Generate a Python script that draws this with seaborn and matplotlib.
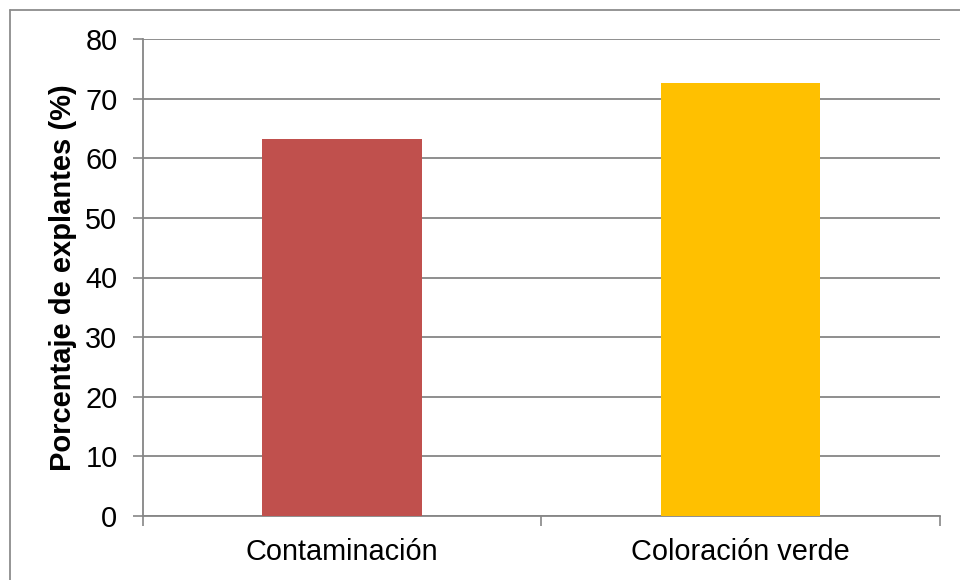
import matplotlib
matplotlib.use("Agg")
import matplotlib.pyplot as plt
from matplotlib.lines import Line2D
import seaborn as sns
import pandas as pd

# Data
categories = ["Contaminación", "Coloración verde"]
percentages = [63.3, 72.6]
bar_colors = ["#C0504D", "#FFC000"]
y_ticks = [0, 10, 20, 30, 40, 50, 60, 70, 80]

df = pd.DataFrame({"categoria": categories, "porcentaje": percentages})

sns.set_theme(style="white")
plt.rcParams["font.family"] = ["Liberation Sans", "DejaVu Sans"]

W, H = 960, 580
fig = plt.figure(figsize=(W / 100, H / 100), dpi=100)
ax = fig.add_axes([142.5 / W, 1 - 516 / H, (940 - 142.5) / W, (516 - 39) / H])

grid_color = "#868686"

sns.barplot(data=df, x="categoria", y="porcentaje", hue="categoria",
            palette=bar_colors, width=0.4, saturation=1, legend=False,
            linewidth=0, ax=ax, zorder=3)

ax.set_ylim(0, 80)
ax.set_xlim(-0.5, 1.5)
ax.set_yticks(y_ticks)
ax.yaxis.grid(True, color=grid_color, linewidth=1.3, zorder=0)
ax.set_axisbelow(True)

# Category boundary ticks on the x axis
ax.set_xticks([-0.5, 0.5, 1.5], minor=True)
ax.tick_params(axis="x", which="minor", length=7, width=1.2, color=grid_color,
               direction="out", bottom=True)
ax.tick_params(axis="x", which="major", length=0, pad=16, labelsize=20.8,
               labelcolor="black")
ax.tick_params(axis="y", which="major", length=7, width=1.2, color=grid_color,
               direction="out", left=True, pad=11, labelsize=20.8,
               labelcolor="black")

for side in ["top", "right"]:
    ax.spines[side].set_visible(False)
for side in ["left", "bottom"]:
    ax.spines[side].set_color(grid_color)
    ax.spines[side].set_linewidth(1.3)

ax.set_xlabel("")
ax.set_ylabel("Porcentaje de explantes (%)", fontsize=21, fontweight="bold",
              color="black", labelpad=6)

# Chart-area frame
fig.add_artist(Line2D([9.5 / W, 9.5 / W], [0, 1 - 9.5 / H],
                      transform=fig.transFigure, color="#8c8c8c", linewidth=1.3))
fig.add_artist(Line2D([9.5 / W, 1], [1 - 9.5 / H, 1 - 9.5 / H],
                      transform=fig.transFigure, color="#8c8c8c", linewidth=1.3))

fig.savefig("out.png", dpi=100)
